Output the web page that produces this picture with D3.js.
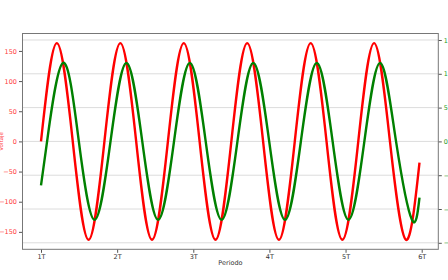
<!DOCTYPE html>
<html>
<head>
<meta charset="utf-8">
<script src="https://cdn.jsdelivr.net/npm/d3@7"></script>
<style>
  body { margin: 0; background: #fff; }
  text { font-family: "DejaVu Sans", sans-serif; }
</style>
</head>
<body>
<div id="chart"></div>
<script>
// x in units of the period T
const tickValues = [1, 2, 3, 4, 5, 6];
const tickLabels = ["1T", "2T", "3T", "4T", "5T", "6T"];
const leftTicks = [-150, -100, -50, 0, 50, 100, 150];
const rightTicks = [-15, -10, -5, 0, 5, 10, 15];

// red trace (left axis): zero crossings and peaks
const redX = [1.000, 1.208, 1.417, 1.625, 1.833, 2.042, 2.250, 2.458, 2.667, 2.875,
  3.083, 3.292, 3.500, 3.708, 3.917, 4.125, 4.333, 4.542, 4.750, 4.958,
  5.167, 5.375, 5.583, 5.792, 5.971];
const redY = [0, 163, 0, -163, 0, 163, 0, -163, 0, 163,
  0, -163, 0, 163, 0, -163, 0, 163, 0, -163,
  0, 163, 0, -163, -35];

// green trace (right axis)
const greenX = [1.000, 1.080, 1.288, 1.497, 1.705, 1.913, 2.122, 2.330, 2.538, 2.747,
  2.955, 3.163, 3.372, 3.580, 3.788, 3.997, 4.205, 4.413, 4.622, 4.830,
  5.038, 5.247, 5.455, 5.663, 5.872, 5.971];
const greenY = [-6.5, 0, 11.6, 0, -11.6, 0, 11.6, 0, -11.6, 0,
  11.6, 0, -11.6, 0, 11.6, 0, -11.6, 0, 11.6, 0,
  -11.6, 0, 11.6, 0, -11.6, -8.3];

const width = 448, height = 280;
const margin = { top: 33.5, right: 9.7, bottom: 30.7, left: 22.5 };
const plotW = width - margin.left - margin.right;
const plotH = height - margin.top - margin.bottom;

const svg = d3.select("#chart").append("svg")
  .attr("width", width)
  .attr("height", height);

const g = svg.append("g")
  .attr("transform", "translate(" + margin.left + "," + margin.top + ")");

const x = d3.scaleLinear().domain([0.757, 6.218]).range([0, plotW]);
const yL = d3.scaleLinear().domain([-178.9, 178.9]).range([plotH, 0]);
const yR = d3.scaleLinear().domain([-15.96, 15.96]).range([plotH, 0]);

// grid from the right axis
g.append("g")
  .selectAll("line")
  .data(rightTicks)
  .join("line")
  .attr("x1", 0)
  .attr("x2", plotW)
  .attr("y1", (d) => yR(d))
  .attr("y2", (d) => yR(d))
  .attr("stroke", "#dcdcdc")
  .attr("stroke-width", 1);

const fontSize = 6.5;

// axes
const xAxis = g.append("g")
  .attr("transform", "translate(0," + plotH + ")")
  .call(d3.axisBottom(x).tickValues(tickValues)
    .tickFormat((d, i) => tickLabels[i]).tickSize(3.5).tickPadding(2));

const leftAxis = g.append("g")
  .call(d3.axisLeft(yL).tickValues(leftTicks)
    .tickFormat((d) => d < 0 ? "\u2212" + Math.abs(d) : d).tickSize(3.5).tickPadding(2));

const rightAxis = g.append("g")
  .attr("transform", "translate(" + plotW + ",0)")
  .call(d3.axisRight(yR).tickValues(rightTicks)
    .tickFormat((d) => d < 0 ? "\u2212" + Math.abs(d) : d).tickSize(3.5).tickPadding(2));

[xAxis, leftAxis, rightAxis].forEach((a) => {
  a.select(".domain").remove();
  a.selectAll("text").attr("font-size", fontSize).attr("font-family", "DejaVu Sans");
  a.selectAll("line").attr("stroke", "#555");
});
xAxis.selectAll("text").attr("fill", "#333");
leftAxis.selectAll("text").attr("fill", "#ff3c3c");
rightAxis.selectAll("text").attr("fill", "#1f9a1f");

// frame
g.append("rect")
  .attr("width", plotW)
  .attr("height", plotH)
  .attr("fill", "none")
  .attr("stroke", "#777")
  .attr("stroke-width", 1);

// lines
const redLine = d3.line()
  .x((d, i) => x(redX[i]))
  .y((d) => yL(d))
  .curve(d3.curveNatural);

const greenLine = d3.line()
  .x((d, i) => x(greenX[i]))
  .y((d) => yR(d))
  .curve(d3.curveNatural);

g.append("path")
  .attr("d", redLine(redY))
  .attr("fill", "none")
  .attr("stroke", "#ff0000")
  .attr("stroke-width", 2.4);

g.append("path")
  .attr("d", greenLine(greenY))
  .attr("fill", "none")
  .attr("stroke", "#008000")
  .attr("stroke-width", 2.4);

// labels
svg.append("text")
  .attr("x", margin.left + plotW / 2)
  .attr("y", 264.5)
  .attr("text-anchor", "middle")
  .attr("font-size", fontSize)
  .attr("fill", "#333")
  .text("Periodo");

svg.append("text")
  .attr("transform", "translate(3," + (margin.top + plotH / 2) + ") rotate(-90)")
  .attr("text-anchor", "middle")
  .attr("font-size", 5.5)
  .attr("fill", "#ff3c3c")
  .text("Voltaje");
</script>
</body>
</html>
